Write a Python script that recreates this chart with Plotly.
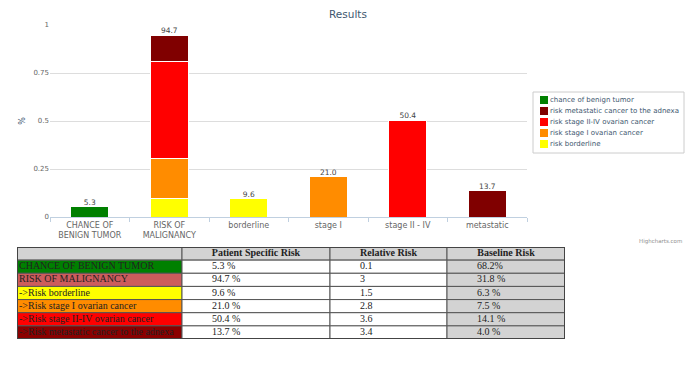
import plotly.graph_objects as go

# The page adds an 8px body margin, so the figure is sized to the remaining area
# and every reference pixel position is shifted by that margin.
PAGE_W, PAGE_H, PAGE_MARGIN = 694, 365, 8
W, H = PAGE_W - PAGE_MARGIN, PAGE_H - PAGE_MARGIN


def px(x):
    return (x - PAGE_MARGIN) / W


def py(y):
    return 1 - (y - PAGE_MARGIN) / H


# ---------------- data ----------------
categories = ["CHANCE OF<br>BENIGN TUMOR", "RISK OF<br>MALIGNANCY", "borderline",
              "stage I", "stage II - IV", "metastatic"]
benign = [0.053, None, None, None, None, None]
borderline = [None, 0.096, 0.096, None, None, None]
stage1 = [None, 0.210, None, 0.210, None, None]
stage2_4 = [None, 0.504, None, None, 0.504, None]
metastatic = [None, 0.137, None, None, None, 0.137]
bar_labels = ["5.3", "94.7", "9.6", "21.0", "50.4", "13.7"]
label_heights = [0.053, 0.947, 0.096, 0.210, 0.504, 0.137]
yticks = [0, 0.25, 0.5, 0.75, 1]
ytick_text = ["0", "0.25", "0.5", "0.75", "1"]

legend_names = ["chance of benign tumor", "risk metastatic cancer to the adnexa",
                "risk stage II-IV ovarian cancer", "risk stage I ovarian cancer",
                "risk borderline"]

table_rows = ["CHANCE OF BENIGN TUMOR", "RISK OF MALIGNANCY", "->Risk borderline",
              "->Risk stage I ovarian cancer", "->Risk stage II-IV ovarian cancer",
              "->Risk metastatic cancer to the adnexa"]
patient_risk = ["5.3 %", "94.7 %", "9.6 %", "21.0 %", "50.4 %", "13.7 %"]
relative_risk = ["0.1", "3", "1.5", "2.8", "3.6", "3.4"]
baseline_risk = ["68.2%", "31.8 %", "6.3 %", "7.5 %", "14.1 %", "4.0 %"]
table_header = ["", "Patient Specific Risk", "Relative Risk", "Baseline Risk"]

# ---------------- style ----------------
GREEN, DARKRED, RED, ORANGE, YELLOW = "#008000", "#800000", "#FF0000", "#FF8C00", "#FFFF00"
legend_colors = [GREEN, DARKRED, RED, ORANGE, YELLOW]
row_colors = [GREEN, "#CD5C5C", YELLOW, ORANGE, RED, "#8B0000"]
col_fills = [None, "white", "white", "#D3D3D3"]
col_widths = [165, 148, 117, 118]
FONT = "DejaVu Sans"
SERIF = "Liberation Serif"

fig = go.Figure()

# ---------------- bars ----------------
series = [
    ("risk borderline", borderline, YELLOW),
    ("risk stage I ovarian cancer", stage1, ORANGE),
    ("risk stage II-IV ovarian cancer", stage2_4, RED),
    ("risk metastatic cancer to the adnexa", metastatic, DARKRED),
    ("chance of benign tumor", benign, GREEN),
]
for name, vals, col in series:
    fig.add_trace(go.Bar(x=categories, y=vals, name=name, marker_color=col,
                         marker_line_color="white", marker_line_width=1,
                         width=0.48, hoverinfo="skip", showlegend=False))

fig.add_trace(go.Scatter(x=categories, y=label_heights, text=bar_labels, mode="text",
                         textposition="top center", showlegend=False,
                         textfont=dict(family=FONT, size=7.5, color="#444444"),
                         hoverinfo="skip"))

# ---------------- legend (drawn on its own small axes) ----------------
leg_y = [8 + 11 * i for i in range(len(legend_names))]
fig.add_trace(go.Scatter(x=[11] * len(legend_names), y=leg_y, mode="markers",
                         marker=dict(symbol="square", size=8, color=legend_colors,
                                     line=dict(width=0)),
                         xaxis="x3", yaxis="y3", showlegend=False, hoverinfo="skip"))
fig.add_trace(go.Scatter(x=[17] * len(legend_names), y=leg_y, mode="text",
                         text=legend_names, textposition="middle right",
                         textfont=dict(family=FONT, size=7, color="#3E576F"),
                         xaxis="x3", yaxis="y3", showlegend=False, hoverinfo="skip"))

# ---------------- table (drawn on its own axes) ----------------
col_starts = [sum(col_widths[:i]) for i in range(len(col_widths) + 1)]
columns = [table_rows, patient_risk, relative_risk, baseline_risk]
n_rows = len(table_rows)
shapes = []
for c in range(len(col_widths)):
    shapes.append(dict(type="rect", xref="x2", yref="y2",
                       x0=col_starts[c], x1=col_starts[c + 1], y0=0, y1=1,
                       fillcolor="#D3D3D3", line=dict(color="#555555", width=1),
                       layer="below"))
for c in range(len(col_widths)):
    for r in range(n_rows):
        fill = row_colors[r] if c == 0 else col_fills[c]
        shapes.append(dict(type="rect", xref="x2", yref="y2",
                           x0=col_starts[c], x1=col_starts[c + 1], y0=r + 1, y1=r + 2,
                           fillcolor=fill, line=dict(color="#555555", width=1),
                           layer="below"))
shapes.append(dict(type="rect", xref="x2", yref="y2", x0=0, x1=col_starts[-1],
                   y0=0, y1=n_rows + 1, line=dict(color="#444444", width=2),
                   fillcolor="rgba(0,0,0,0)", layer="above"))
shapes.append(dict(type="rect", xref="x3 domain", yref="y3 domain", x0=0, x1=1,
                   y0=0, y1=1, line=dict(color="#CCCCCC", width=1),
                   fillcolor="rgba(0,0,0,0)"))

fig.add_trace(go.Scatter(
    x=[(col_starts[c] + col_starts[c + 1]) / 2 for c in range(1, len(col_widths))],
    y=[0.5] * (len(col_widths) - 1),
    text=["<b>%s</b>" % t for t in table_header[1:]], mode="text",
    textposition="middle center",
    textfont=dict(family=SERIF, size=10, color="#222222"),
    xaxis="x2", yaxis="y2", showlegend=False, hoverinfo="skip"))
for c, vals in enumerate(columns):
    off = 2 if c == 0 else 30
    fig.add_trace(go.Scatter(
        x=[col_starts[c] + off] * n_rows, y=[r + 1.5 for r in range(n_rows)],
        text=vals, mode="text", textposition="middle right",
        textfont=dict(family=SERIF, size=10, color="#222222"),
        xaxis="x2", yaxis="y2", showlegend=False, hoverinfo="skip"))

# ---------------- layout ----------------
fig.update_layout(
    width=W, height=H,
    margin=dict(l=0, r=0, t=0, b=0, autoexpand=False),
    paper_bgcolor="white", plot_bgcolor="white",
    barmode="stack", bargap=0.52,
    showlegend=False,
    shapes=shapes,
    title=dict(text="Results", x=px(348), xanchor="center", y=py(14), yanchor="middle",
               font=dict(family=FONT, size=10.5, color="#3E576F")),
    xaxis=dict(domain=[px(50), px(527)], showline=True, linecolor="#C0D0E0", linewidth=1,
               ticks="outside", tickson="boundaries", ticklen=4, tickcolor="#C0D0E0",
               tickfont=dict(family=FONT, size=8, color="#666666"),
               fixedrange=True),
    yaxis=dict(domain=[py(217), py(25)], range=[0, 1], tickvals=yticks,
               ticktext=ytick_text,
               showgrid=True, gridcolor="#DDDDDD", gridwidth=1, zeroline=False,
               tickfont=dict(family=FONT, size=7, color="#666666"),
               title=dict(text="%", font=dict(family=FONT, size=8, color="#3E576F"),
                          standoff=6),
               fixedrange=True),
    xaxis2=dict(domain=[px(17), px(565)], range=[0, sum(col_widths)], visible=False,
                fixedrange=True),
    yaxis2=dict(domain=[py(339), py(247)], range=[n_rows + 1, 0], visible=False,
                fixedrange=True),
    xaxis3=dict(domain=[px(533), px(684)], range=[0, 151], visible=False,
                fixedrange=True),
    yaxis3=dict(domain=[py(153), py(92)], range=[61, 0], visible=False,
                fixedrange=True),
    annotations=[dict(text="Highcharts.com", x=px(684), y=py(241), xref="paper",
                      yref="paper", xanchor="right", yanchor="middle", showarrow=False,
                      font=dict(family=FONT, size=5.5, color="#909090"))],
)

fig.write_html("out.html")
